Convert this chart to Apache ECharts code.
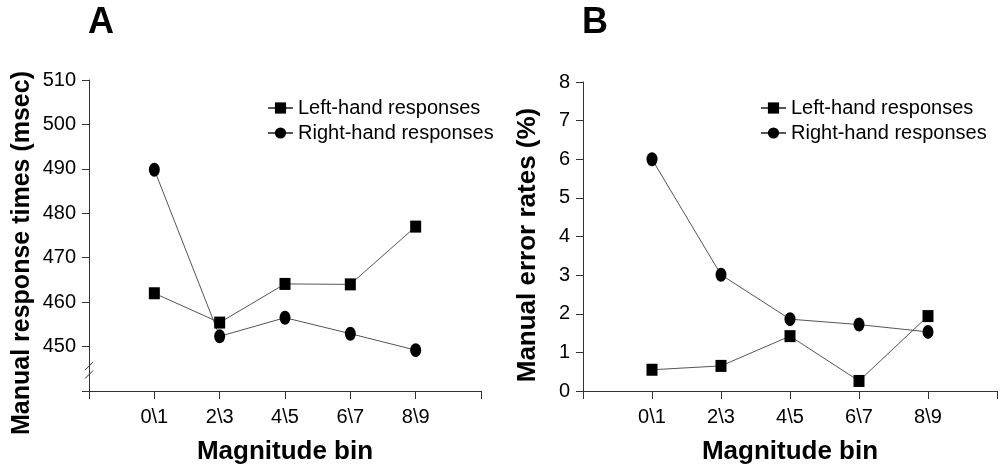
<!DOCTYPE html>
<html><head><meta charset="utf-8">
<script src="https://cdn.jsdelivr.net/npm/echarts@6/dist/echarts.min.js"></script>
<style>html,body{margin:0;padding:0;background:#fff}#c{width:1001px;height:470px}</style>
</head><body><div id="c"></div>
<script>
// ---- data ----
const categories = ['', '0\\1', '2\\3', '4\\5', '6\\7', '8\\9', ''];
const seriesNames = ['Left-hand responses', 'Right-hand responses'];
const rtLeft  = [null, 462.0, 455.4, 464.1, 464.0, 477.0, null];
const rtRight = [null, 489.8, 452.3, 456.5, 452.9, 449.2, null];
const errLeft  = [null, 0.55, 0.65, 1.42, 0.26, 1.94, null];
const errRight = [null, 6.00, 3.01, 1.86, 1.72, 1.53, null];
const rtAxis  = {min: 440, max: 510, interval: 10, hidden: [440]};
const errAxis = {min: 0, max: 8, interval: 1};
const panelLabels = ['A', 'B'];
const yTitles = ['Manual response times (msec)', 'Manual error rates (%)'];
const xTitle = 'Magnitude bin';
const breakValues = [445.6, 443.7];

// ---- styles ----
const FONT = 'Liberation Sans, Arial, sans-serif';
const axisColor = '#333';

function xAxisDef(gi) {
  return {
    type: 'category', gridIndex: gi, data: categories, boundaryGap: false,
    axisLine: {lineStyle: {color: axisColor, width: 1}},
    axisTick: {show: true, length: 8, alignWithLabel: true, lineStyle: {color: axisColor}},
    axisLabel: {color: '#000', fontFamily: FONT, fontSize: 20, margin: 16, interval: 0},
    name: xTitle, nameLocation: 'middle', nameGap: 48,
    nameTextStyle: {color: '#000', fontFamily: FONT, fontSize: 26, fontWeight: 'bold'}
  };
}
function yAxisDef(gi, ax) {
  return {
    type: 'value', gridIndex: gi, min: ax.min, max: ax.max, interval: ax.interval,
    axisLine: {show: true, lineStyle: {color: axisColor, width: 1}},
    axisTick: {show: true, length: 7, lineStyle: {color: axisColor}},
    splitLine: {show: false},
    axisLabel: {color: '#000', fontFamily: FONT, fontSize: 20, margin: 13,
      formatter: v => (ax.hidden && ax.hidden.indexOf(v) >= 0) ? '' : String(v)}
  };
}
function lineSeries(name, data, gi, sym) {
  return {
    type: 'line', name: name, data: data, xAxisIndex: gi, yAxisIndex: gi,
    symbol: sym, symbolSize: sym === 'rect' ? [11, 12] : [11, 14],
    showAllSymbol: true, connectNulls: false,
    itemStyle: {color: '#000'},
    lineStyle: {color: '#555', width: 1},
    z: 3
  };
}
function legendDef(left) {
  return {
    orient: 'vertical', left: left, top: 93, itemGap: 5, itemWidth: 25, itemHeight: 14,
    data: seriesNames, selectedMode: false,
    textStyle: {color: '#000', fontFamily: FONT, fontSize: 20, padding: [0, 0, 0, 0]},
    itemStyle: {color: '#000'}
  };
}

const chart = echarts.init(document.getElementById('c'), null, {renderer: 'canvas'});
chart.setOption({
  animation: false,
  backgroundColor: '#fff',
  textStyle: {fontFamily: FONT},
  grid: [
    {left: 89, right: 520, top: 80, bottom: 78},
    {left: 583, right: 4, top: 82, bottom: 78}
  ],
  xAxis: [xAxisDef(0), xAxisDef(1)],
  yAxis: [yAxisDef(0, rtAxis), yAxisDef(1, errAxis)],
  legend: [legendDef(262), legendDef(755)],
  series: [
    lineSeries(seriesNames[0], rtLeft, 0, 'rect'),
    lineSeries(seriesNames[1], rtRight, 0, 'circle'),
    lineSeries(seriesNames[0], errLeft, 1, 'rect'),
    lineSeries(seriesNames[1], errRight, 1, 'circle')
  ]
});

// decorations: panel letters, rotated axis titles, axis-break slashes
const g = [];
g.push({type: 'text', x: 101, y: 23, style: {text: panelLabels[0], font: 'bold 36px ' + FONT, fill: '#000', textAlign: 'center', textVerticalAlign: 'middle'}});
g.push({type: 'text', x: 595, y: 23, style: {text: panelLabels[1], font: 'bold 36px ' + FONT, fill: '#000', textAlign: 'center', textVerticalAlign: 'middle'}});
g.push({type: 'text', x: 22, y: 253, rotation: Math.PI / 2, style: {text: yTitles[0], font: 'bold 25px ' + FONT, fill: '#000', textAlign: 'center', textVerticalAlign: 'middle'}});
g.push({type: 'text', x: 528, y: 245, rotation: Math.PI / 2, style: {text: yTitles[1], font: 'bold 26px ' + FONT, fill: '#000', textAlign: 'center', textVerticalAlign: 'middle'}});
breakValues.forEach(v => {
  const p = chart.convertToPixel({gridIndex: 0}, [0, v]);
  g.push({type: 'line', shape: {x1: p[0] - 4, y1: p[1] + 4, x2: p[0] + 4, y2: p[1] - 4}, style: {stroke: axisColor, lineWidth: 1}, z: 10});
});
chart.setOption({graphic: g});
</script>
</body></html>
